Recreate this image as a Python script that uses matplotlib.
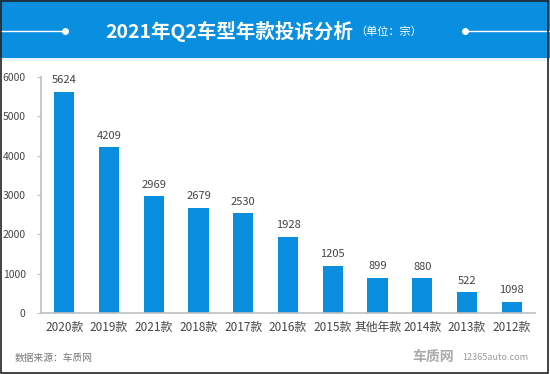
import matplotlib
matplotlib.use("Agg")
import matplotlib.pyplot as plt
from matplotlib.patches import Rectangle
from matplotlib.lines import Line2D

plt.rcParams['font.family'] = ['Noto Sans CJK SC', 'DejaVu Sans']

# 数据
categories = ["2020款", "2019款", "2021款", "2018款", "2017款", "2016款",
              "2015款", "其他年款", "2014款", "2013款", "2012款"]
# 柱子高度
bar_heights = [5624, 4209, 2969, 2679, 2530, 1928, 1205, 899, 880, 522, 280]
# 柱顶标注文字（原图 2012款 标注为 1098）
bar_labels = ["5624", "4209", "2969", "2679", "2530", "1928",
              "1205", "899", "880", "522", "1098"]
yticks = [0, 1000, 2000, 3000, 4000, 5000, 6000]

BLUE = "#0a8fe0"
AXIS = "#bfbfbf"
TEXT = "#444444"

fig = plt.figure(figsize=(5.5, 3.74), dpi=100)
fig.patch.set_facecolor("white")

# ---- 顶部标题条 ----
fig.patches.append(Rectangle((0, 1 - 58 / 374), 1, 58 / 374, transform=fig.transFigure,
                             facecolor=BLUE, edgecolor="none", zorder=0))
fig.patches.append(Rectangle((0, 1 - 61 / 374), 1, 3 / 374, transform=fig.transFigure,
                             facecolor="#e3f4fc", edgecolor="none", zorder=0))
ty = 1 - 31 / 374
fig.lines.append(Line2D([0, 65 / 550], [ty, ty], transform=fig.transFigure,
                        color="white", lw=1))
fig.lines.append(Line2D([465 / 550, 1], [ty, ty], transform=fig.transFigure,
                        color="white", lw=1))
fig.lines.append(Line2D([65 / 550, 465 / 550], [ty, ty], transform=fig.transFigure,
                        color="white", lw=0, marker="o", markersize=4, markevery=[0, 1]))
fig.text(353 / 550, ty, "2021年Q2车型年款投诉分析", ha="right", va="center",
         color="white", fontsize=14, fontweight="bold")
fig.text(355 / 550, ty - 0.002, "（单位：宗）", ha="left", va="center",
         color="white", fontsize=8)

# ---- 柱状图 ----
ax = fig.add_axes([41 / 550, 1 - 313 / 374, 494 / 550, 236 / 374])
x = range(len(categories))
bars = ax.bar(x, bar_heights, width=0.45, color=BLUE, zorder=2)
for b, lab in zip(bars, bar_labels):
    ax.text(b.get_x() + b.get_width() / 2, b.get_height() + 170, lab,
            ha="center", va="bottom", fontsize=8, color=TEXT)

ax.set_xlim(-0.52, len(categories) - 0.48)
ax.set_ylim(0, 6000)
ax.set_yticks(yticks)
ax.set_xticks(list(x))
ax.set_xticklabels(categories)
ax.tick_params(axis="y", length=3, color=AXIS, labelsize=7.5, labelcolor=TEXT, pad=8)
ax.tick_params(axis="x", length=0, labelsize=8.5, labelcolor=TEXT, pad=6)
for s in ("top", "right"):
    ax.spines[s].set_visible(False)
for s in ("left", "bottom"):
    ax.spines[s].set_color(AXIS)
    ax.spines[s].set_linewidth(1.2)

# ---- 底部文字 ----
fig.text(15 / 550, 1 - 358 / 374, "数据来源：车质网", ha="left", va="center",
         fontsize=7, color="#777777")
fig.text(412 / 550, 1 - 357 / 374, "车质网", ha="left", va="center",
         fontsize=10, color="#aaaaaa", fontweight="bold")
fig.text(462 / 550, 1 - 358 / 374, "12365auto.com", ha="left", va="center",
         fontsize=6.5, color="#999999")

# 外边框
fig.patches.append(Rectangle((0.001, 0.002), 0.996, 0.996, transform=fig.transFigure,
                             facecolor="none", edgecolor="#222222", lw=1.2, zorder=10))

fig.savefig("out.png", dpi=100)
